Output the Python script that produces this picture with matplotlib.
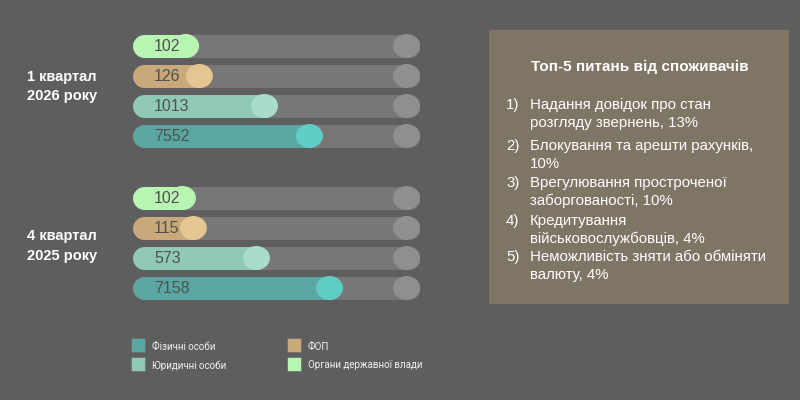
import matplotlib
matplotlib.use("Agg")
import matplotlib.pyplot as plt
from matplotlib.patches import Rectangle, Ellipse

# ---------------- data ----------------
periods = ["1 квартал\n2026 року", "4 квартал\n2025 року"]
categories = ["Органи державної влади", "ФОП", "Юридичні особи", "Фізичні особи"]
values_q1_2026 = [102, 126, 1013, 7552]
values_q4_2025 = [102, 115, 573, 7158]
# visual fill share of each track
fill_q1_2026 = [0.233, 0.281, 0.507, 0.663]
fill_q4_2025 = [0.222, 0.260, 0.479, 0.733]

legend_order = ["Фізичні особи", "ФОП", "Юридичні особи", "Органи державної влади"]

panel_title = "Топ-5 питань від споживачів"
top_issues = [
    "Надання довідок про стан\nрозгляду звернень, 13%",
    "Блокування та арешти рахунків,\n10%",
    "Врегулювання простроченої\nзаборгованості, 10%",
    "Кредитування\nвійськовослужбовців, 4%",
    "Неможливість зняти або обміняти\nвалюту, 4%",
]

# ---------------- styles ----------------
BG = "#5e5e5e"
TRACK = "#777777"
TRACK_KNOB = "#8f8f8f"
bar_colors = {"Органи державної влади": "#b8f5b3", "ФОП": "#c9a97a",
              "Юридичні особи": "#90cab6", "Фізичні особи": "#5aa7a1"}
knob_colors = {"Органи державної влади": "#b8f5b3", "ФОП": "#e5c591",
               "Юридичні особи": "#a9dccb", "Фізичні особи": "#60cdc4"}
FONT = ["Liberation Sans", "DejaVu Sans"]
plt.rcParams["font.family"] = FONT

W, H = 800, 400
fig = plt.figure(figsize=(8, 4), dpi=100, facecolor=BG)

# overlay axes in pixel coordinates for text/panels
ov = fig.add_axes([0, 0, 1, 1])
ov.set_xlim(0, W)
ov.set_ylim(H, 0)
ov.axis("off")

# bars axes: track spans x 132..420 px, y 30..302 px
x0, x1, y0, y1 = 132, 420, 30, 302
track_px = x1 - x0
ax = fig.add_axes([x0 / W, 1 - y1 / H, (x1 - x0) / W, (y1 - y0) / H])
ax.set_xlim(0, 1)
ax.set_ylim(y1 - y0, 0)
ax.axis("off")
ax.patch.set_alpha(0)

bar_h_px = 23
lw = bar_h_px * 72 / 100
r = (bar_h_px / 2) / track_px
knob_w = 27 / track_px
knob_h = 24

row_step = 30
group_step = 152
first_row = 16

all_values = [values_q1_2026, values_q4_2025]
all_fills = [fill_q1_2026, fill_q4_2025]
label_y = [86.5, 246]

for g, (vals, fills) in enumerate(zip(all_values, all_fills)):
    for j, (cat, v, f) in enumerate(zip(categories, vals, fills)):
        y = first_row + g * group_step + j * row_step
        # track
        ax.plot([r, 1 - r], [y, y], color=TRACK, lw=lw, solid_capstyle="round", zorder=1)
        ax.add_patch(Ellipse((1 - knob_w / 2, y), knob_w, knob_h, color=TRACK_KNOB,
                             zorder=2, lw=0))
        # value bar
        ax.plot([r, f - knob_w / 2], [y, y], color=bar_colors[cat], lw=lw,
                solid_capstyle="round", zorder=3)
        ax.add_patch(Ellipse((f - knob_w / 2, y), knob_w, knob_h,
                             color=knob_colors[cat], zorder=4, lw=0))
        ax.text(22 / track_px, y + 0.5, f"{v}", ha="left", va="center",
                fontsize=11.5, color="#505050", zorder=5)
    ov.text(62, label_y[g], periods[g], ha="center", va="center", fontsize=10.5,
            fontweight="bold", color="white", linespacing=1.5)

# legend
leg_pos = {"Фізичні особи": (131, 345), "Юридичні особи": (131, 364),
           "ФОП": (287, 345), "Органи державної влади": (287, 364)}
for cat in legend_order:
    lx, ly = leg_pos[cat]
    ov.add_patch(Rectangle((lx, ly - 7), 14, 14, facecolor=bar_colors[cat],
                           edgecolor="#6a6a6a", lw=0.5))
    ov.text(lx + 21, ly + 1.5, cat, ha="left", va="center", fontsize=7,
            color="#f2f2f2", family=["Roboto", "DejaVu Sans"])

# right panel
ov.add_patch(Rectangle((489, 30), 300, 274, facecolor="#7f7565", edgecolor="none"))
ov.text(640, 67, panel_title, ha="center", va="center", fontsize=11,
        fontweight="bold", color="white")
item_y = [105, 146, 183, 221, 257]
line_gap = 17.5
for i, (txt, iy) in enumerate(zip(top_issues, item_y)):
    ov.text(506, iy, f"{i + 1})", ha="left", va="center", fontsize=10.8, color="white")
    for k, line in enumerate(txt.split("\n")):
        ov.text(530, iy + k * line_gap, line, ha="left", va="center",
                fontsize=10.8, color="white")

fig.savefig("out.png", dpi=100, facecolor=BG)
